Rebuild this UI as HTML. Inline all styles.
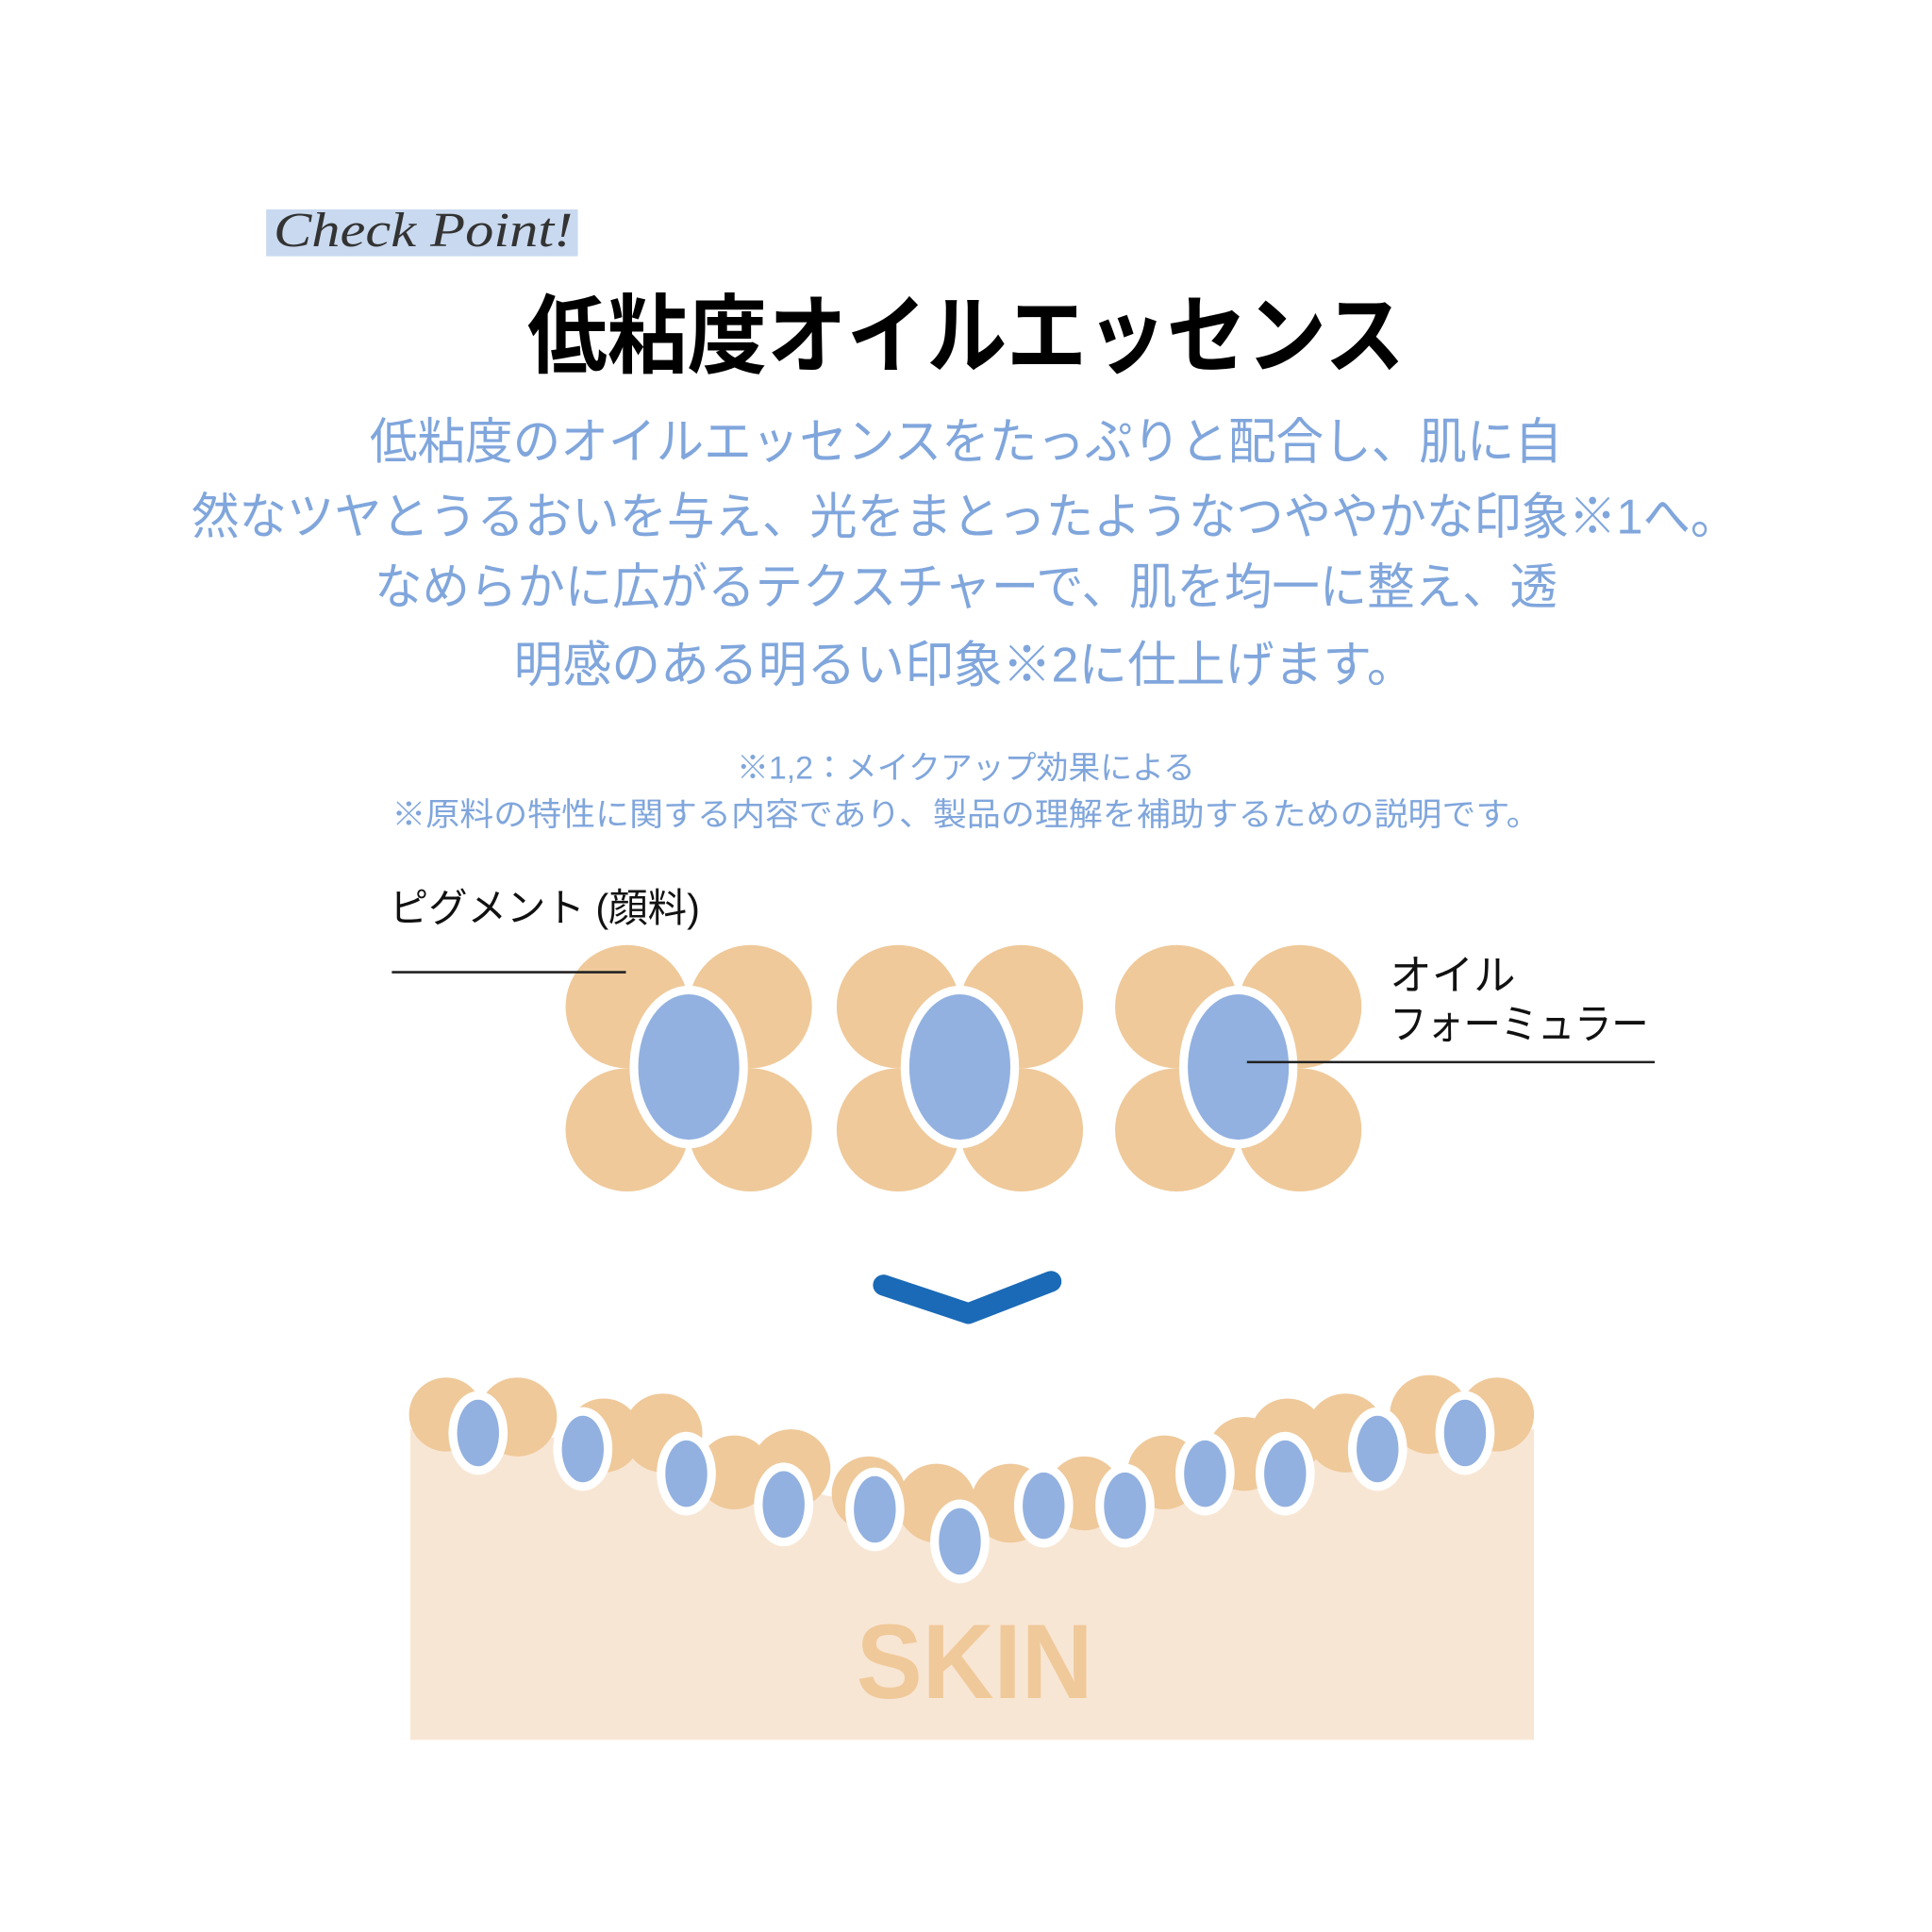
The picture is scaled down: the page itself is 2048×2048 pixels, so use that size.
<!DOCTYPE html>
<html><head><meta charset="utf-8"><style>
html,body{margin:0;padding:0;background:#fff;width:2048px;height:2048px;overflow:hidden}
svg{display:block}
text{font-family:"Liberation Sans","Noto Sans CJK JP",sans-serif}
</style></head><body>
<svg width="2048" height="2048" viewBox="0 0 1568 1568" xmlns="http://www.w3.org/2000/svg">
<rect x="216" y="170" width="253" height="38" fill="#c9d9ef"/>
<text x="222" y="200" font-style="italic" font-size="40" fill="#333" style="font-family:'Liberation Serif',serif" textLength="243" lengthAdjust="spacingAndGlyphs">Check Point!</text>
<text x="784" y="297" text-anchor="middle" font-size="70" font-weight="bold" fill="#000" textLength="712" lengthAdjust="spacingAndGlyphs">低粘度オイルエッセンス</text>
<g fill="#80a6dc" font-size="40" text-anchor="middle">
<text x="784" y="372" textLength="968" lengthAdjust="spacingAndGlyphs">低粘度のオイルエッセンスをたっぷりと配合し、肌に自</text>
<text x="783" y="433" textLength="1255" lengthAdjust="spacingAndGlyphs">然なツヤとうるおいを与え、光をまとったようなつややかな印象※1へ。</text>
<text x="784" y="490" textLength="960" lengthAdjust="spacingAndGlyphs">なめらかに広がるテクスチャーで、肌を均一に整え、透</text>
<text x="783" y="553" textLength="732" lengthAdjust="spacingAndGlyphs">明感のある明るい印象※2に仕上げます。</text>
</g>
<g fill="#80a6dc" font-size="26" text-anchor="middle">
<text x="784" y="632" textLength="372" lengthAdjust="spacingAndGlyphs">※1,2：メイクアップ効果による</text>
<text x="784" y="670" textLength="932" lengthAdjust="spacingAndGlyphs">※原料の特性に関する内容であり、製品の理解を補助するための説明です。</text>
</g>
<text x="316" y="748" font-size="32" fill="#111" textLength="252" lengthAdjust="spacingAndGlyphs">ピグメント (顔料)</text>
<text x="1128" y="803" font-size="34" fill="#111">オイル</text>
<text x="1128" y="843" font-size="34" fill="#111" textLength="210" lengthAdjust="spacingAndGlyphs">フォーミュラー</text>
<g fill="#efc99a">
<circle cx="509" cy="817" r="50"/><circle cx="609" cy="817" r="50"/><circle cx="509" cy="917" r="50"/><circle cx="609" cy="917" r="50"/>
<circle cx="729" cy="817" r="50"/><circle cx="829" cy="817" r="50"/><circle cx="729" cy="917" r="50"/><circle cx="829" cy="917" r="50"/>
<circle cx="955" cy="817" r="50"/><circle cx="1055" cy="817" r="50"/><circle cx="955" cy="917" r="50"/><circle cx="1055" cy="917" r="50"/>
</g>
<g>
<ellipse cx="559" cy="866" rx="48" ry="66" fill="#fff"/><ellipse cx="559" cy="866" rx="41" ry="59" fill="#92b1e0"/>
<ellipse cx="779" cy="866" rx="48" ry="66" fill="#fff"/><ellipse cx="779" cy="866" rx="41" ry="59" fill="#92b1e0"/>
<ellipse cx="1005" cy="866" rx="48" ry="66" fill="#fff"/><ellipse cx="1005" cy="866" rx="41" ry="59" fill="#92b1e0"/>
</g>
<line x1="318" y1="789" x2="508" y2="789" stroke="#222" stroke-width="2"/>
<line x1="1012" y1="862" x2="1343" y2="862" stroke="#222" stroke-width="2"/>
<polyline points="717,1043 786,1066 853,1040" fill="none" stroke="#1a6ab7" stroke-width="17" stroke-linecap="round" stroke-linejoin="round"/>
<path d="M333,1160 L470,1168 L560,1190 L700,1220 L780,1238 L860,1220 L1000,1190 L1120,1168 L1245,1160 L1245,1412 L333,1412 Z" fill="#f8e6d4"/>
<g fill="#efc99a">
<circle cx="362" cy="1148" r="30"/><circle cx="420" cy="1150" r="32"/>
<circle cx="490" cy="1165" r="30"/><circle cx="538" cy="1163" r="32"/>
<circle cx="596" cy="1195" r="30"/><circle cx="642" cy="1192" r="32"/>
<circle cx="705" cy="1212" r="30"/><circle cx="760" cy="1220" r="32"/>
<circle cx="820" cy="1220" r="32"/><circle cx="880" cy="1212" r="30"/>
<circle cx="945" cy="1195" r="30"/><circle cx="1010" cy="1180" r="30"/>
<circle cx="1045" cy="1165" r="30"/><circle cx="1092" cy="1163" r="32"/>
<circle cx="1160" cy="1148" r="32"/><circle cx="1215" cy="1148" r="30"/>
</g>
<g>
<ellipse cx="388" cy="1163" rx="24" ry="34" fill="#fff"/><ellipse cx="388" cy="1163" rx="17" ry="27" fill="#92b1e0"/>
<ellipse cx="473" cy="1176" rx="24" ry="34" fill="#fff"/><ellipse cx="473" cy="1176" rx="17" ry="27" fill="#92b1e0"/>
<ellipse cx="557" cy="1196" rx="24" ry="34" fill="#fff"/><ellipse cx="557" cy="1196" rx="17" ry="27" fill="#92b1e0"/>
<ellipse cx="636" cy="1221" rx="24" ry="34" fill="#fff"/><ellipse cx="636" cy="1221" rx="17" ry="27" fill="#92b1e0"/>
<ellipse cx="710" cy="1225" rx="24" ry="34" fill="#fff"/><ellipse cx="710" cy="1225" rx="17" ry="27" fill="#92b1e0"/>
<ellipse cx="779" cy="1251" rx="24" ry="34" fill="#fff"/><ellipse cx="779" cy="1251" rx="17" ry="27" fill="#92b1e0"/>
<ellipse cx="847" cy="1222" rx="24" ry="34" fill="#fff"/><ellipse cx="847" cy="1222" rx="17" ry="27" fill="#92b1e0"/>
<ellipse cx="913" cy="1222" rx="24" ry="34" fill="#fff"/><ellipse cx="913" cy="1222" rx="17" ry="27" fill="#92b1e0"/>
<ellipse cx="978" cy="1196" rx="24" ry="34" fill="#fff"/><ellipse cx="978" cy="1196" rx="17" ry="27" fill="#92b1e0"/>
<ellipse cx="1043" cy="1196" rx="24" ry="34" fill="#fff"/><ellipse cx="1043" cy="1196" rx="17" ry="27" fill="#92b1e0"/>
<ellipse cx="1118" cy="1176" rx="24" ry="34" fill="#fff"/><ellipse cx="1118" cy="1176" rx="17" ry="27" fill="#92b1e0"/>
<ellipse cx="1189" cy="1163" rx="24" ry="34" fill="#fff"/><ellipse cx="1189" cy="1163" rx="17" ry="27" fill="#92b1e0"/>
</g>
<text x="791" y="1378" text-anchor="middle" font-size="86" font-weight="bold" fill="#f0c99a" textLength="192" lengthAdjust="spacingAndGlyphs">SKIN</text>
</svg>
</body></html>
